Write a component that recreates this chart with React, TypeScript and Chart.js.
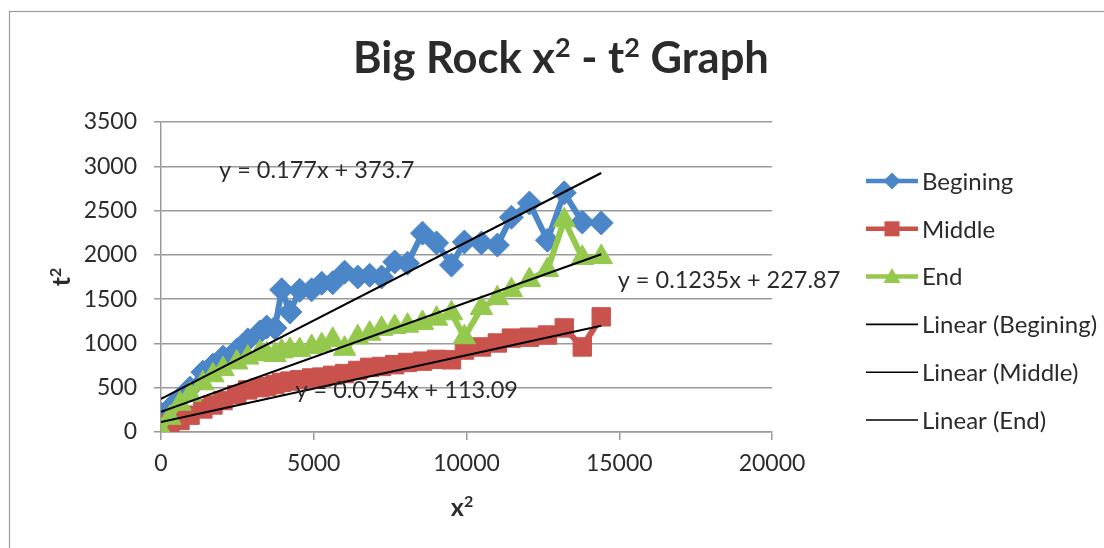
import { useEffect, useRef } from "react";
import { Chart, registerables } from "chart.js";

Chart.register(...registerables);

// x² values (shared by the three runs)
const xSquared = [
  0, 290, 620, 950, 1370, 1700, 2030, 2480, 2840, 3240, 3460, 3730, 3950, 4220,
  4540, 4930, 5260, 5620, 6010, 6440, 6830, 7220, 7650, 8070, 8560, 9020, 9510,
  9930, 10490, 11010, 11470, 12060, 12650, 13200, 13790, 14410,
];

// t² values per run
const begining = [
  200, 270, 385, 495, 675, 755, 845, 925, 1040, 1130, 1185, 1175, 1605, 1355,
  1600, 1605, 1680, 1685, 1805, 1750, 1770, 1750, 1920, 1905, 2245, 2135, 1885,
  2145, 2135, 2110, 2425, 2585, 2165, 2700, 2370, 2360,
];
const middle = [
  90, 40, 130, 190, 260, 305, 355, 420, 475, 500, 515, 535, 560, 575, 590, 610,
  620, 640, 660, 695, 730, 740, 760, 785, 800, 820, 815, 925, 960, 1005, 1060,
  1070, 1095, 1175, 960, 1300,
];
const end = [
  20, 160, 320, 420, 550, 640, 710, 785, 840, 900, 880, 870, 910, 925, 925, 960,
  980, 1040, 940, 1070, 1110, 1165, 1185, 1200, 1230, 1280, 1340, 1070, 1400,
  1510, 1600, 1715, 1830, 2390, 1965, 1975,
];

// trendline coefficients as printed on the chart
const seriesNames = ["Begining", "Middle", "End"];
const trendSlopes = [0.177, 0.0754, 0.1235];
const trendIntercepts = [373.7, 113.09, 227.87];
const trendLabels = ["y = 0.177x + 373.7", "y = 0.0754x + 113.09", "y = 0.1235x + 227.87"];

const BLUE = "#4a86c8";
const RED = "#c9534c";
const GREEN = "#94c94e";
const TEXT = "#2b2b2b";
const FONT = "Lato";

const toPoints = (ys: number[]) => xSquared.map((x, i) => ({ x, y: ys[i] }));

const trend = (k: number) => {
  const x0 = xSquared[0];
  const x1 = xSquared[xSquared.length - 1];
  return [
    { x: x0, y: trendSlopes[k] * x0 + trendIntercepts[k] },
    { x: x1, y: trendSlopes[k] * x1 + trendIntercepts[k] },
  ];
};

function marker(ctx: CanvasRenderingContext2D, kind: string, x: number, y: number, r: number) {
  ctx.beginPath();
  if (kind === "diamond") {
    ctx.moveTo(x, y - r);
    ctx.lineTo(x + r, y);
    ctx.lineTo(x, y + r);
    ctx.lineTo(x - r, y);
  } else if (kind === "square") {
    ctx.rect(x - r, y - r, r * 2, r * 2);
  } else {
    ctx.moveTo(x, y - r);
    ctx.lineTo(x + r, y + r * 0.75);
    ctx.lineTo(x - r, y + r * 0.75);
  }
  ctx.closePath();
  ctx.fill();
}

// text with superscript parts: [text, isSup]
function richText(
  ctx: CanvasRenderingContext2D,
  parts: [string, boolean][],
  cx: number,
  baseline: number,
  size: number,
  weight: string
) {
  const supSize = Math.round(size * 0.62);
  const widths = parts.map(([t, sup]) => {
    ctx.font = `${weight} ${sup ? supSize : size}px ${FONT}`;
    return ctx.measureText(t).width;
  });
  const total = widths.reduce((a, b) => a + b, 0);
  let x = cx - total / 2;
  ctx.textAlign = "left";
  ctx.textBaseline = "alphabetic";
  parts.forEach(([t, sup], i) => {
    ctx.font = `${weight} ${sup ? supSize : size}px ${FONT}`;
    ctx.fillText(t, x, sup ? baseline - size * 0.36 : baseline);
    x += widths[i];
  });
}

export default function App() {
  const canvasRef = useRef<HTMLCanvasElement | null>(null);

  useEffect(() => {
    if (!canvasRef.current) return;

    const decorations = {
      id: "decorations",
      afterDraw(chart: any) {
        const ctx: CanvasRenderingContext2D = chart.ctx;
        const xs = chart.scales.x;
        const ys = chart.scales.y;
        ctx.save();

        // outer chart frame (scan shows only top/left edges)
        ctx.strokeStyle = "#9a9a9a";
        ctx.lineWidth = 1.2;
        ctx.strokeRect(9.5, 11.5, 1200, 600);

        // title
        ctx.fillStyle = TEXT;
        richText(
          ctx,
          [
            ["Big Rock x", false],
            ["2", true],
            [" - t", false],
            ["2", true],
            [" Graph", false],
          ],
          561,
          73,
          43.5,
          "bold"
        );

        // axis titles
        richText(ctx, [["x", false], ["2", true]], 462, 516, 25, "bold");
        ctx.save();
        ctx.translate(70, 277);
        ctx.rotate(-Math.PI / 2);
        richText(ctx, [["t", false], ["2", true]], 0, 0, 25, "bold");
        ctx.restore();

        // trendline equations
        ctx.font = `23.5px ${FONT}`;
        ctx.textAlign = "left";
        ctx.textBaseline = "alphabetic";
        const labelPos = [
          [1900, 2870],
          [4400, 385],
          [14950, 1630],
        ];
        trendLabels.forEach((t, i) => {
          const px = xs.getPixelForValue(labelPos[i][0]);
          const py = ys.getPixelForValue(labelPos[i][1]);
          ctx.fillText(t, px, py);
        });

        // legend
        const legend = [
          { label: seriesNames[0], color: BLUE, kind: "diamond" },
          { label: seriesNames[1], color: RED, kind: "square" },
          { label: seriesNames[2], color: GREEN, kind: "triangle" },
          { label: `Linear (${seriesNames[0]})`, color: "#000", kind: "" },
          { label: `Linear (${seriesNames[1]})`, color: "#000", kind: "" },
          { label: `Linear (${seriesNames[2]})`, color: "#000", kind: "" },
        ];
        ctx.font = `24px ${FONT}`;
        ctx.textBaseline = "middle";
        legend.forEach((item, i) => {
          const y = 181 + i * 47.8;
          ctx.strokeStyle = item.color;
          ctx.fillStyle = item.color;
          ctx.lineWidth = item.kind ? 4.5 : 1.6;
          ctx.beginPath();
          ctx.moveTo(866, y);
          ctx.lineTo(918, y);
          ctx.stroke();
          if (item.kind) marker(ctx, item.kind, 892, y, item.kind === "square" ? 7.5 : 8.5);
          ctx.fillStyle = TEXT;
          ctx.fillText(item.label, 922, y + 1);
        });

        ctx.restore();
      },
    };

    const series = (label: string, ys: number[], color: string, style: any, radius: number, order: number) => ({
      label,
      data: toPoints(ys),
      borderColor: color,
      backgroundColor: color,
      borderWidth: 6,
      pointStyle: style,
      pointRadius: radius,
      pointBorderWidth: 1,
      showLine: true,
      tension: 0,
      order,
    });

    const trendSet = (k: number) => ({
      label: `Linear (${seriesNames[k]})`,
      data: trend(k),
      borderColor: "#000",
      backgroundColor: "#000",
      borderWidth: 2,
      pointRadius: 0,
      showLine: true,
      order: 0,
    });

    const chart = new Chart(canvasRef.current, {
      type: "scatter",
      data: {
        datasets: [
          trendSet(0),
          trendSet(1),
          trendSet(2),
          series(seriesNames[2], end, GREEN, "triangle", 13, 1),
          series(seriesNames[1], middle, RED, "rect", 13, 2),
          series(seriesNames[0], begining, BLUE, "rectRot", 12, 3),
        ],
      },
      options: {
        animation: false,
        responsive: false,
        layout: { padding: { top: 122, left: 0, right: 332, bottom: 0 } },
        plugins: {
          legend: { display: false },
          title: { display: false },
          tooltip: { enabled: false },
        },
        scales: {
          x: {
            type: "linear",
            min: 0,
            max: 20000,
            afterFit: (s: any) => {
              s.height = 116;
            },
            ticks: {
              stepSize: 5000,
              color: TEXT,
              font: { family: FONT, size: 23 },
              padding: 10,
              maxRotation: 0,
              callback: (v: any) => String(v),
            },
            grid: {
              drawOnChartArea: false,
              drawTicks: true,
              tickLength: 8,
              color: "#9a9a9a",
              lineWidth: 1.5,
            },
            border: { color: "#9a9a9a", width: 1.5 },
          },
          y: {
            type: "linear",
            min: 0,
            max: 3500,
            afterFit: (s: any) => {
              s.width = 161;
            },
            ticks: {
              stepSize: 500,
              color: TEXT,
              font: { family: FONT, size: 23 },
              padding: 17,
              callback: (v: any) => String(v),
            },
            grid: {
              color: "#9a9a9a",
              lineWidth: 1.5,
              tickLength: 7,
            },
            border: { color: "#9a9a9a", width: 1.5 },
          },
        },
      },
      plugins: [decorations],
    } as any);

    return () => chart.destroy();
  }, []);

  return (
    <div style={{ position: "absolute", left: 0, top: 0, width: 1104, height: 548, background: "#fff" }}>
      <canvas ref={canvasRef} width={1104} height={548} />
    </div>
  );
}
